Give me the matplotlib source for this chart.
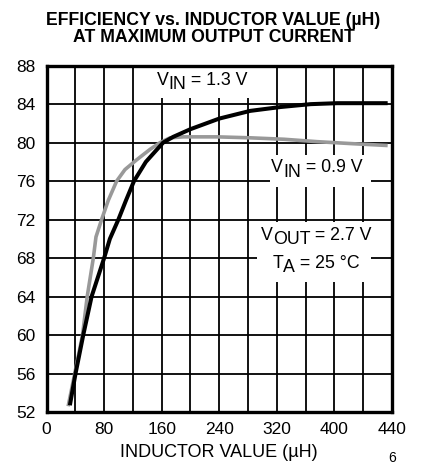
import matplotlib
matplotlib.use("Agg")
import matplotlib.pyplot as plt
from matplotlib.patches import Rectangle

plt.rcParams['font.family'] = ['Liberation Sans', 'DejaVu Sans']

# datos (x en unidades de la rejilla, 40 por division)
l_black = [32.4, 40.3, 51, 62.6, 80, 88, 99.8, 110.4, 121.5, 138, 162, 176, 200, 240, 283, 325, 367, 404, 474]
eff_black = [52.7, 56.0, 60.0, 64.0, 68.0, 70.0, 72.0, 74.0, 76.0, 78.0, 80.0, 80.6, 81.4, 82.5, 83.3, 83.7, 84.0, 84.1, 84.1]
l_gray = [30, 40, 50, 56.5, 65, 68.7, 76.5, 85.8, 97.4, 109, 125, 143.8, 157.7, 171.6, 190, 237, 283, 330, 376, 423, 474]
eff_gray = [52.6, 56.3, 60.0, 64.0, 68.0, 70.2, 72.0, 74.0, 76.0, 77.2, 78.2, 79.3, 80.0, 80.5, 80.6, 80.6, 80.5, 80.35, 80.1, 79.9, 79.7]
xticks = [0, 80, 160, 240, 320, 400, 480]
xticklabels = ["0", "80", "160", "240", "320", "400", "440"]
yticks = [52, 56, 60, 64, 68, 72, 76, 80, 84, 88]

fig = plt.figure(figsize=(4.27, 4.69), dpi=100)
ax = fig.add_axes([0.109, 0.1215, 0.809, 0.7385])

ax.set_xlim(0, 480)
ax.set_ylim(52, 88)
ax.set_yticks(yticks)
ax.set_xticks(xticks)
ax.set_xticklabels(xticklabels)
ax.set_xticks(range(40, 480, 80), minor=True)
ax.grid(True, which='both', color='black', lw=1.3)
ax.set_axisbelow(True)
ax.tick_params(which='both', length=0, labelsize=12.5)
ax.tick_params(axis='y', pad=8)
ax.tick_params(axis='x', pad=7)
for s in ax.spines.values():
    s.set_linewidth(2.4)

ax.plot(l_gray, eff_gray, color='#999999', lw=2.6, zorder=3, solid_capstyle='butt')
ax.plot(l_black, eff_black, color='black', lw=2.9, zorder=4, solid_capstyle='butt')

# fondos blancos de las etiquetas
for (x0, y0, w, h) in [(130, 84.6, 160, 3.4), (311, 75.4, 140, 3.3), (292, 65.5, 159, 6.3)]:
    ax.add_patch(Rectangle((x0, y0), w, h, fc='white', ec='none', zorder=2))


def label(x, y, pieces, fs=12.8):
    prev = ax.text(x, y, pieces[0][0], fontsize=fs, va='baseline', zorder=5)
    for txt, dy in pieces[1:]:
        prev = ax.annotate(txt, xy=(1, 0), xycoords=prev, xytext=(0, dy),
                           textcoords='offset points', fontsize=fs, va='bottom', zorder=5)


label(153, 86.0, [("V", 0), ("IN", -3), (" = 1.3 V", 3)])
label(312, 76.9, [("V", 0), ("IN", -3), (" = 0.9 V", 3)])
label(298, 69.9, [("V", 0), ("OUT", -3), (" = 2.7 V", 3)])
label(313.6, 66.95, [("T", 0), ("A", -3), (" = 25 \u00b0C", 3)])

ax.set_xlabel("INDUCTOR VALUE (\u00b5H)", fontsize=13, labelpad=5)
fig.text(0.5, 0.975, "EFFICIENCY vs. INDUCTOR VALUE (\u00b5H)\nAT MAXIMUM OUTPUT CURRENT",
         ha='center', va='top', fontsize=12.7, fontweight='bold', linespacing=1.05)
fig.text(0.91, 0.015, "6", fontsize=10)

fig.savefig("out.png", dpi=100)
